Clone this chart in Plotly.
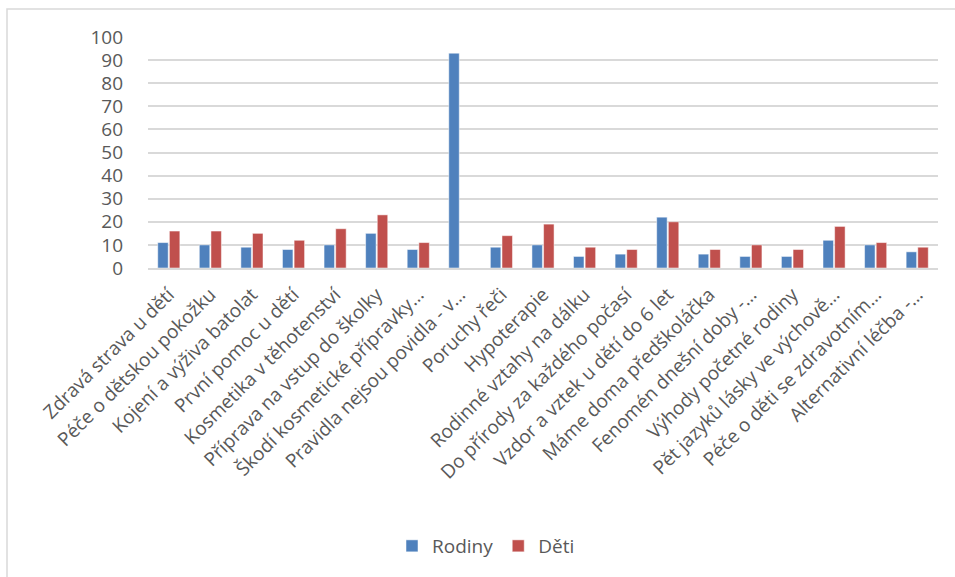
import plotly.graph_objects as go

categories = [
    "Zdravá strava u dětí",
    "Péče o dětskou pokožku",
    "Kojení a výživa batolat",
    "První pomoc u dětí",
    "Kosmetika v těhotenství",
    "Příprava na vstup do školky",
    "Škodí kosmetické přípravky…",
    "Pravidla nejsou povidla - v…",
    "Poruchy řeči",
    "Hypoterapie",
    "Rodinné vztahy na dálku",
    "Do přírody za každého počasí",
    "Vzdor a vztek u dětí do 6 let",
    "Máme doma předškoláčka",
    "Fenomén dnešní doby -…",
    "Výhody početné rodiny",
    "Pět jazyků lásky ve výchově…",
    "Péče o děti se zdravotním…",
    "Alternativní léčba -…",
]
rodiny = [11, 10, 9, 8, 10, 15, 8, 93, 9, 10, 5, 6, 22, 6, 5, 5, 12, 10, 7]
deti = [16, 16, 15, 12, 17, 23, 11, 0, 14, 19, 9, 8, 20, 8, 10, 8, 18, 11, 9]
y_ticks = [0, 10, 20, 30, 40, 50, 60, 70, 80, 90, 100]

font_family = "Open Sans, DejaVu Sans, sans-serif"

fig = go.Figure()
fig.add_trace(go.Bar(name="Rodiny", x=categories, y=rodiny,
                     marker=dict(color="#4F81BD", line=dict(color="#FFFFFF", width=0.5))))
fig.add_trace(go.Bar(name="Děti", x=categories, y=deti,
                     marker=dict(color="#C0504D", line=dict(color="#FFFFFF", width=0.5))))

fig.update_layout(
    width=955, height=577,
    barmode="group", bargap=0.44, bargroupgap=0.1,
    paper_bgcolor="white", plot_bgcolor="white",
    margin=dict(l=148, r=17, t=37, b=309, autoexpand=False),
    font=dict(family=font_family, color="#595959"),
    showlegend=True,
    legend=dict(orientation="h", x=(486 - 148) / 790, xanchor="center",
                y=(577 - 546) / 577, yref="container",
                yanchor="middle", font=dict(size=19, color="#595959"),
                tracegroupgap=0, itemwidth=30),
    shapes=[dict(type="rect", xref="paper", yref="paper",
                 x0=-141/790, x1=(960-148)/790, y0=-320/231, y1=(268-9)/231,
                 line=dict(color="#D9D9D9", width=1.5))],
)
fig.update_xaxes(tickangle=-45, tickfont=dict(size=19, color="#595959"),
                 showgrid=False, showline=True, linecolor="#D9D9D9", linewidth=2,
                 ticks="", ticklabelstandoff=6, automargin=False)
fig.update_yaxes(range=[0, 100], tickvals=y_ticks, tickfont=dict(size=19, color="#595959"),
                 showgrid=True, gridcolor="#D9D9D9", gridwidth=2, zeroline=False,
                 showline=False, ticks="", ticklabelstandoff=24, automargin=False)

fig.write_html("out.html", config={"displayModeBar": False},
               post_script="document.body.style.margin='0';document.body.style.overflow='hidden';")
